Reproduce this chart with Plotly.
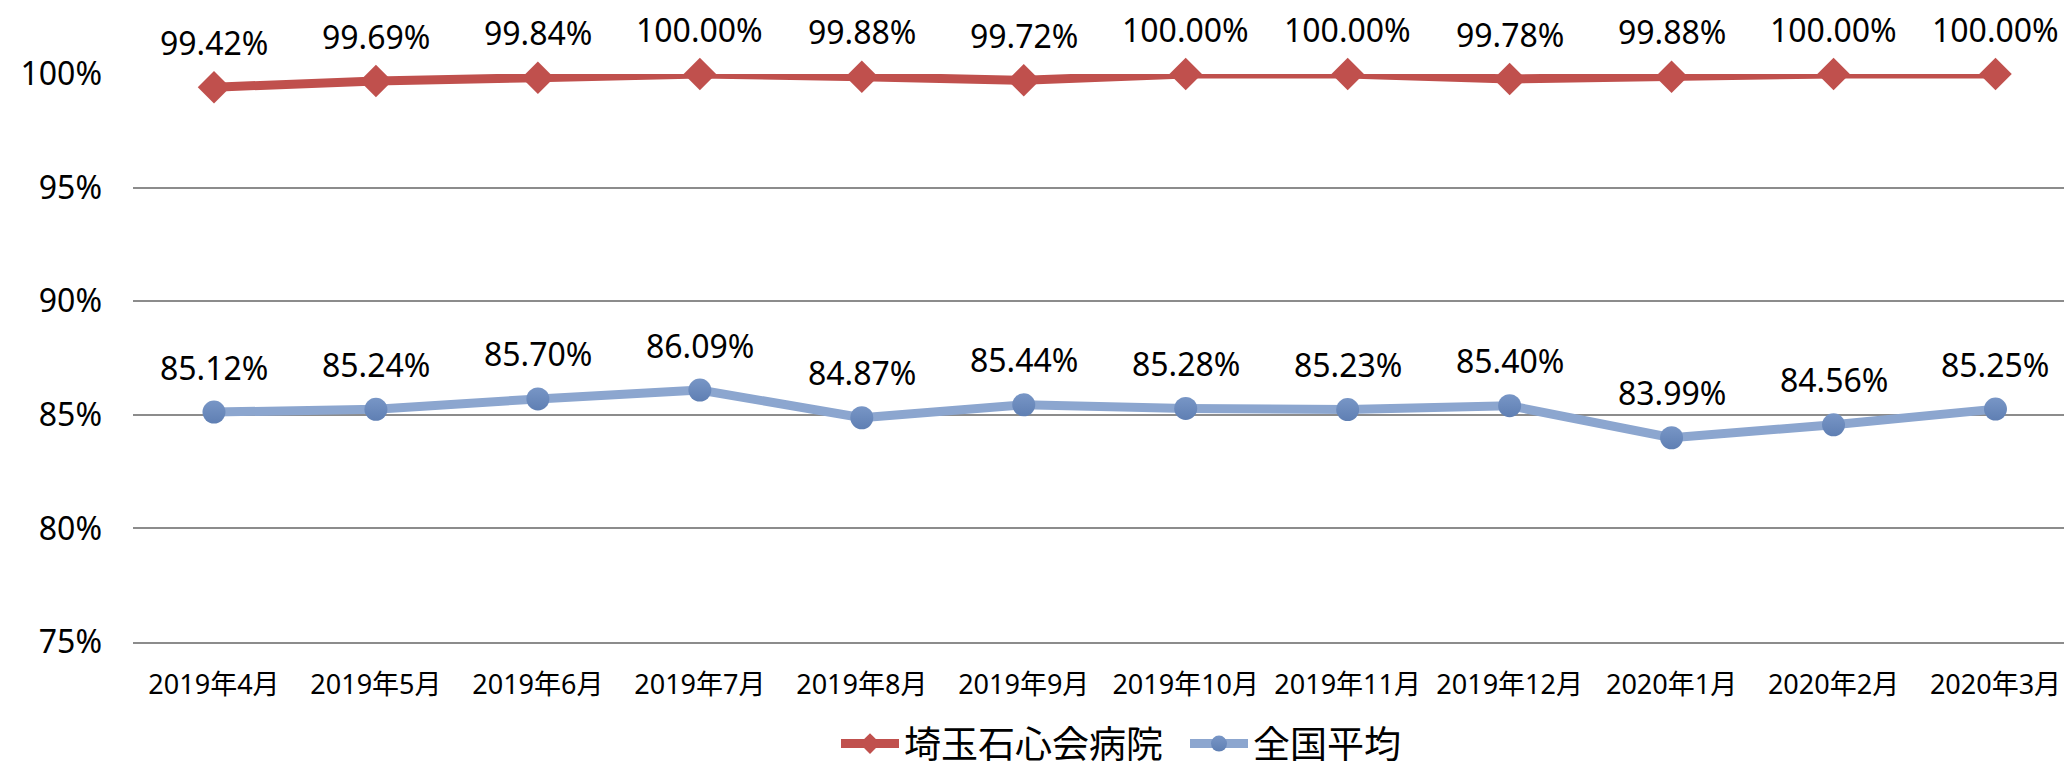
import plotly.graph_objects as go

categories = ["2019年4月", "2019年5月", "2019年6月", "2019年7月", "2019年8月", "2019年9月",
              "2019年10月", "2019年11月", "2019年12月", "2020年1月", "2020年2月", "2020年3月"]
hospital_name = "埼玉石心会病院"
hospital = [99.42, 99.69, 99.84, 100.00, 99.88, 99.72, 100.00, 100.00, 99.78, 99.88, 100.00, 100.00]
national_name = "全国平均"
national = [85.12, 85.24, 85.70, 86.09, 84.87, 85.44, 85.28, 85.23, 85.40, 83.99, 84.56, 85.25]
y_ticks = [75, 80, 85, 90, 95, 100]
y_tick_labels = ["75%", "80%", "85%", "90%", "95%", "100%"]

RED = "#C0504D"
BLUE_LINE = "#8CA6CF"
BLUE_MARK = "#7896C6"
FONT = "Noto Sans, Noto Sans CJK JP, sans-serif"

fig = go.Figure()
fig.add_trace(go.Scatter(
    x=categories, y=hospital, name=hospital_name, mode="lines+markers",
    line=dict(color=RED, width=9),
    marker=dict(symbol="diamond", size=25, color=RED),
    cliponaxis=False,
))
fig.add_trace(go.Scatter(
    x=categories, y=national, name=national_name, mode="lines+markers",
    line=dict(color=BLUE_LINE, width=9),
    marker=dict(symbol="circle", size=23, color=BLUE_MARK,
                gradient=dict(type="vertical", color="#5F7FB3")),
    cliponaxis=False,
))

for series in (hospital, national):
    for c, v in zip(categories, series):
        fig.add_annotation(x=c, y=v, text=f"{v:.2f}%", showarrow=False,
                           yshift=45, font=dict(family=FONT, size=32, color="#000000"))

fig.update_layout(
    width=2064, height=773,
    margin=dict(l=133, r=0, t=74, b=131),
    paper_bgcolor="white", plot_bgcolor="white",
    font=dict(family=FONT, color="#000000"),
    showlegend=True,
    legend=dict(orientation="h", xref="container", yref="container",
                x=836 / 2064, xanchor="left", y=1 - 744 / 773, yanchor="middle",
                font=dict(family="Noto Sans CJK JP, sans-serif", size=37),
                itemwidth=58, entrywidth=276, traceorder="normal"),
    xaxis=dict(
        type="category", range=[-0.5, 11.423],
        showgrid=False, showline=True, linecolor="#8C8C8C", linewidth=2,
        ticks="", tickfont=dict(family=FONT, size=27), ticklabelstandoff=18,
        fixedrange=True,
    ),
    yaxis=dict(
        range=[75, 100], tickvals=y_ticks, ticktext=y_tick_labels,
        showgrid=True, gridcolor="#8C8C8C", gridwidth=2,
        zeroline=False, showline=False, ticks="",
        tickfont=dict(family=FONT, size=32), ticklabelstandoff=30,
        fixedrange=True,
    ),
)

fig.write_html("out.html", config={"displayModeBar": False},
               post_script="document.body.style.margin='0';")
